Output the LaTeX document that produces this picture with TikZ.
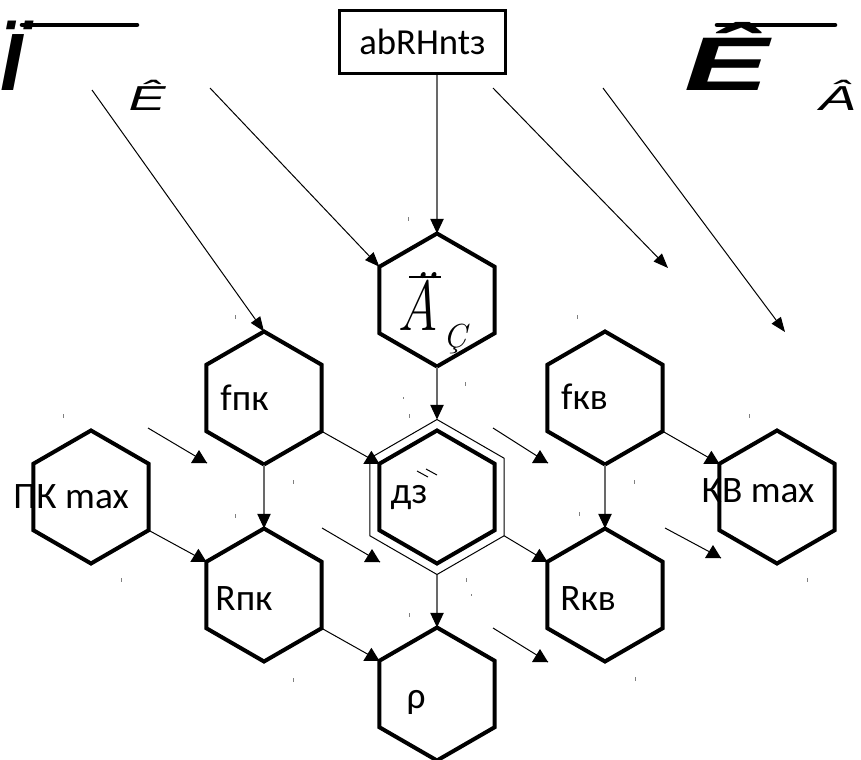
\documentclass[tikz,border=0pt]{standalone}
\usepackage{graphicx}
\usepackage{fontspec}
\setsansfont{Carlito}
\newfontfamily\lsans{Liberation Sans}
\usetikzlibrary{shapes.geometric,arrows.meta}
\definecolor{linegray}{RGB}{105,105,105}
\begin{document}
\begin{tikzpicture}[x=0.75pt,y=-0.75pt,
  hex/.style={regular polygon, regular polygon sides=6, regular polygon rotate=30, draw, line width=3pt, minimum size=99.75pt, inner sep=0pt, outer sep=0pt},
  hexout/.style={regular polygon, regular polygon sides=6, regular polygon rotate=30, draw, line width=0.75pt, minimum size=116.25pt, inner sep=0pt, outer sep=0pt},
  lbl/.style={anchor=base, font=\sffamily\fontsize{28}{30}\selectfont, inner sep=0pt},
  vline/.style={line width=0.9pt, draw=linegray, -{Triangle[length=11pt,width=10pt,color=black]}},
  darrow/.style={line width=0.75pt, -{Triangle[length=11pt,width=8.5pt]}},
  sline/.style={line width=0.75pt},
  tick/.style={line width=0.75pt, draw=gray},
  uptri/.pic={\fill (0,0) -- (-16,0) -- (-8,-13) -- cycle;},
  garb/.style={inner sep=0pt, outer sep=0pt}
]
\useasboundingbox (0,0) rectangle (861,760);

% top garbled glyphs
\node[garb, anchor=base west, font=\lsans\bfseries\itshape\fontsize{61}{61}\selectfont] (gI) at (1,90) {Ï};
\draw[line width=3.4pt, line cap=round] (22,25) -- (137,25);
\node[garb, anchor=base, font=\lsans\itshape\fontsize{26}{26}\selectfont] (gE1) at (147,110) {\scalebox{1.6}[1]{Ê}};
\node[garb, anchor=base west, font=\lsans\bfseries\itshape\fontsize{57}{57}\selectfont] (gE2) at (684,90) {\scalebox{1.67}[1]{Ê}};
\draw[line width=3.4pt, line cap=round] (717,25) -- (835,25);
\node[garb, anchor=base west, font=\lsans\itshape\fontsize{26}{26}\selectfont] (gA) at (819,110) {\scalebox{1.6}[1]{Â}};

% box
\node[draw, line width=2.5pt, minimum width=124.5pt, minimum height=47pt, inner sep=0pt, font=\sffamily\fontsize{27.5}{30}\selectfont] (box) at (422.5,42) {abRHntз};

% hexagons
\node[hex] (ac) at (437,300) {};
\node[hex] (fpk) at (264,398) {};
\node[hex] (fkv) at (605,398) {};
\node[hex] (pkmax) at (91,497) {};
\node[hex] (dz) at (437,497) {};
\node[hexout] (dzo) at (437,497) {};
\node[hex] (kvmax) at (777,497) {};
\node[hex] (rpk) at (264,595) {};
\node[hex] (rkv) at (605,595) {};
\node[hex] (rho) at (437,694) {};

% labels
\node[garb, anchor=base, font=\rmfamily\itshape\fontsize{53}{53}\selectfont] (aclab) at (418,330) {\scalebox{0.8}[1]{Ä}};
\draw[line width=1.3pt] (409,277) -- (441,277);
\node[garb, anchor=base west, font=\rmfamily\itshape\fontsize{25}{25}\selectfont] (acsub) at (443,347) {Ç};
\node[lbl] (tfpk) at (244.5,410) {fпк};
\node[lbl] (tfkv) at (584.5,409) {fкв};
\node[lbl] (trpk) at (244,610) {Rпк};
\node[lbl] (trkv) at (588,610) {Rкв};
\node[lbl] (tpkmax) at (71,508) {ПК max};
\node[lbl] (tkvmax) at (758,502) {КВ max};
\node[lbl] (tdz) at (409,503) {дз};
\node[lbl] (trho) at (416,708) {ρ};

% free coordinates
\coordinate (s1) at (92,90);
\coordinate (s2) at (210,88);
\coordinate (s3) at (493,88);
\coordinate (e3) at (668,268);
\coordinate (s4) at (603,88);
\coordinate (e4) at (785,332);
\coordinate (fa1) at (148,428); \coordinate (fa2) at (207,463);
\coordinate (fd1) at (322,528); \coordinate (fd2) at (380,562);
\coordinate (ff1) at (493,428); \coordinate (ff2) at (548,463);
\coordinate (fh1) at (493,628); \coordinate (fh2) at (548,662);
\coordinate (fj1) at (665,528); \coordinate (fj2) at (721,558);

% vertical connectors
\draw[vline] (box.south -| ac.90) -- (ac.90);
\draw[vline] (ac.270) -- (dzo.90);
\draw[vline] (dzo.270) -- (rho.90);
\draw[vline] (fpk.270) -- (rpk.90);
\draw[vline] (fkv.270) -- (rkv.90);

% long diagonals
\draw[darrow] (s1) -- (fpk.90);
\draw[darrow] (s2) -- (ac.150);
\draw[darrow] (s3) -- (e3);
\draw[darrow] (s4) -- (e4);

% short diagonals with upright triangles
\draw[sline] (fa1) -- (fa2); \pic at (fa2) {uptri};
\draw[sline] (pkmax.330) -- (rpk.150); \pic at (rpk.150) {uptri};
\draw[sline] (fpk.330) -- (dz.150); \pic at (dz.150) {uptri};
\draw[sline] (fd1) -- (fd2); \pic at (fd2) {uptri};
\draw[sline] (rpk.330) -- (rho.150); \pic at (rho.150) {uptri};
\draw[sline] (ff1) -- (ff2); \pic at (ff2) {uptri};
\draw[sline] (dzo.330) -- (rkv.150); \pic at (rkv.150) {uptri};
\draw[sline] (fh1) -- (fh2); \pic at (fh2) {uptri};
\draw[sline] (fkv.330) -- (kvmax.150); \pic at (kvmax.150) {uptri};
\draw[sline] (fj1) -- (fj2); \pic at (fj2) {uptri};

% small ticks
\foreach \x/\y in {63/414,121/578,235/315,235/514,293/480,293/678,408/217,409/414,409/613,465/382,466/578,577/315,579/512,634/480,635/677,749/414,807/578}
  \draw[tick] (\x,\y) -- (\x,\y+4);
\foreach \x/\y in {403/397,471/594}
  \draw[tick] (\x,\y) -- (\x,\y+1.5);
\draw[sline] (417,471) -- (428,477);
\draw[sline] (426,469) -- (437,475);
\end{tikzpicture}
\end{document}
